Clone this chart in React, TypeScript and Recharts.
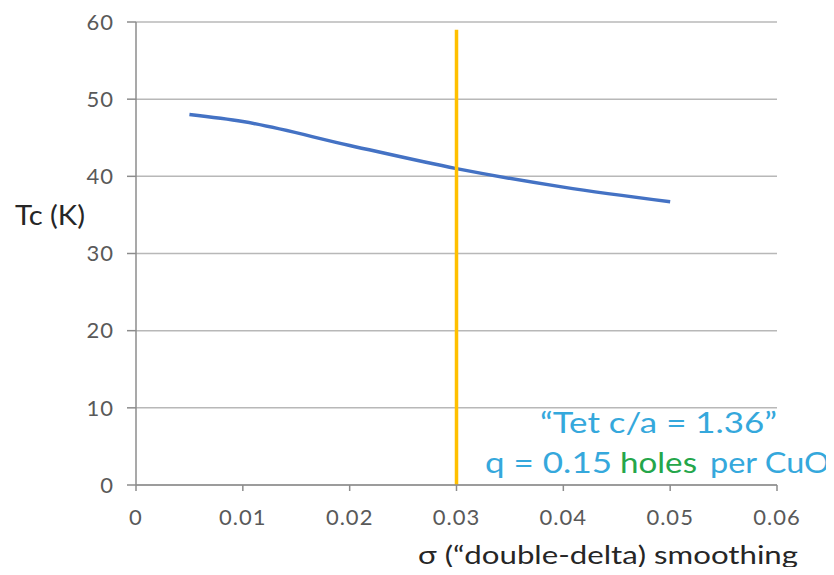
import React from 'react';
import { LineChart, Line, XAxis, YAxis, CartesianGrid } from 'recharts';

// sigma smoothing vs Tc
const sigmaValues = [0.005, 0.01, 0.02, 0.03, 0.04, 0.05];
const tcValues = [48.0, 47.1, 44.0, 41.0, 38.6, 36.7];

// vertical marker at sigma = 0.03
const markerSigma = [0.03, 0.03];
const markerTc = [0, 59];

const xTicks = [0, 0.01, 0.02, 0.03, 0.04, 0.05, 0.06];
const yTicks = [0, 10, 20, 30, 40, 50, 60];

const curve = sigmaValues.map((s, i) => ({ x: s, y: tcValues[i] }));
const marker = markerSigma.map((s, i) => ({ x: s, y: markerTc[i] }));

const FONT = 'Lato, "Open Sans", sans-serif';
const tickStyle = { fill: '#595959', fontSize: 22, fontFamily: FONT, letterSpacing: 1 };
const BLUE_TEXT = '#35a8dc';
const GREEN_TEXT = '#24a64a';

export default function App() {
    return (
        <div style={{ position: 'relative', width: 834, height: 575, margin: -8, background: '#fff' }}>
            <LineChart width={834} height={575} margin={{ top: 22, right: 57, bottom: 0, left: 0 }}>
                <CartesianGrid vertical={false} stroke="#b8b8b8" strokeWidth={1.5} />
                <XAxis
                    type="number"
                    dataKey="x"
                    domain={[0, 0.06]}
                    ticks={xTicks}
                    height={90}
                    stroke="#8c8c8c"
                    strokeWidth={1.5}
                    tickSize={6}
                    tickMargin={18}
                    tick={tickStyle}
                    tickFormatter={(v: number) => (v === 0 ? '0' : v.toFixed(2))}
                    allowDuplicatedCategory={false}
                />
                <YAxis
                    type="number"
                    dataKey="y"
                    domain={[0, 60]}
                    ticks={yTicks}
                    width={136}
                    stroke="#8c8c8c"
                    strokeWidth={1.5}
                    tickSize={9}
                    tickMargin={13}
                    tick={tickStyle}
                />
                <Line
                    data={curve}
                    dataKey="y"
                    type="monotone"
                    stroke="#4472C4"
                    strokeWidth={3.5}
                    dot={false}
                    isAnimationActive={false}
                />
                <Line
                    data={marker}
                    dataKey="y"
                    type="linear"
                    stroke="#FFC000"
                    strokeWidth={3.5}
                    dot={false}
                    isAnimationActive={false}
                />
            </LineChart>
            <svg
                width={834}
                height={575}
                style={{ position: 'absolute', left: 0, top: 0, pointerEvents: 'none' }}
            >
                <text x={15} y={225} fontSize={27} fontFamily={FONT} fill="#262626"
                    textLength={70} lengthAdjust="spacingAndGlyphs">
                    Tc (K)
                </text>
                <text x={418} y={564} fontSize={25} fontFamily={FONT} fill="#262626"
                    textLength={380} lengthAdjust="spacingAndGlyphs">
                    σ (“double-delta) smoothing
                </text>
                <text x={540} y={433} fontSize={28} fontFamily={FONT} fill={BLUE_TEXT}
                    textLength={237} lengthAdjust="spacingAndGlyphs">
                    “Tet c/a = 1.36”
                </text>
                <text x={485} y={473} fontSize={28} fontFamily={FONT} fill={BLUE_TEXT}
                    textLength={127} lengthAdjust="spacingAndGlyphs">
                    q = 0.15
                </text>
                <text x={620} y={473} fontSize={28} fontFamily={FONT} fill={GREEN_TEXT}
                    textLength={77} lengthAdjust="spacingAndGlyphs">
                    holes
                </text>
                <text x={710} y={473} fontSize={28} fontFamily={FONT} fill={BLUE_TEXT}
                    textLength={120} lengthAdjust="spacingAndGlyphs">
                    per CuO
                </text>
            </svg>
        </div>
    );
}
